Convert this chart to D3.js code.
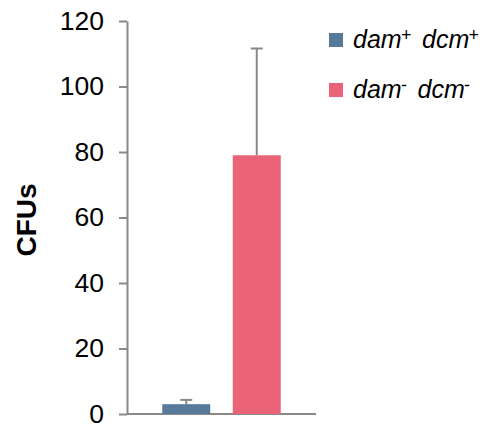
<!DOCTYPE html>
<html>
<head>
<meta charset="utf-8">
<script src="https://cdn.jsdelivr.net/npm/d3@7"></script>
<style>
  body { margin: 0; background: #fff; }
  svg { font-family: "Liberation Sans", Arial, sans-serif; }
</style>
</head>
<body>
<svg id="chart" width="492" height="430"></svg>
<script>
// strains, mean CFUs and upper error
var strains = ["dam+ dcm+", "dam- dcm-"];
var cfus = [3, 79];
var errors = [1.3, 32.6];
var colors = ["#587a9a", "#eb6376"];
var yTicks = [0, 20, 40, 60, 80, 100, 120];
// legend pieces: [base, sup] pairs
var legendParts = [
  [["dam", "+"], ["dcm", "+"]],
  [["dam", "-"], ["dcm", "-"]]
];

var svg = d3.select("#chart");
var axisColor = "#898989";

var y = d3.scaleLinear().domain([0, 120]).range([414, 21]);
var x = d3.scaleBand().domain(strains).range([127, 316])
    .paddingInner(0.32).paddingOuter(0.5);

// y axis
var yAxis = svg.append("g")
    .attr("transform", "translate(127,0)")
    .call(d3.axisLeft(y).tickValues(yTicks).tickSize(8).tickSizeOuter(0).tickPadding(15));
yAxis.select(".domain").attr("stroke", axisColor).attr("stroke-width", 2);
yAxis.selectAll(".tick line").attr("stroke", axisColor).attr("stroke-width", 2);
yAxis.selectAll(".tick text")
    .attr("fill", "#000")
    .style("font-size", "26.5px")
    .style("font-family", "Liberation Sans, Arial, sans-serif");

// x axis line
svg.append("line")
    .attr("x1", 127).attr("x2", 316)
    .attr("y1", y(0)).attr("y2", y(0))
    .attr("stroke", axisColor).attr("stroke-width", 2);

// bars
svg.selectAll("rect.bar")
    .data(strains)
  .enter().append("rect")
    .attr("class", "bar")
    .attr("x", function(d) { return x(d); })
    .attr("width", x.bandwidth())
    .attr("y", function(d, i) { return y(cfus[i]); })
    .attr("height", function(d, i) { return y(0) - y(cfus[i]); })
    .attr("fill", function(d, i) { return colors[i]; });

// error bars (upper only)
var err = svg.selectAll("g.err")
    .data(strains)
  .enter().append("g")
    .attr("class", "err");
err.append("line")
    .attr("x1", function(d) { return x(d) + x.bandwidth() / 2; })
    .attr("x2", function(d) { return x(d) + x.bandwidth() / 2; })
    .attr("y1", function(d, i) { return y(cfus[i]); })
    .attr("y2", function(d, i) { return y(cfus[i] + errors[i]); })
    .attr("stroke", axisColor).attr("stroke-width", 2);
err.append("line")
    .attr("x1", function(d) { return x(d) + x.bandwidth() / 2 - 6; })
    .attr("x2", function(d) { return x(d) + x.bandwidth() / 2 + 6; })
    .attr("y1", function(d, i) { return y(cfus[i] + errors[i]); })
    .attr("y2", function(d, i) { return y(cfus[i] + errors[i]); })
    .attr("stroke", axisColor).attr("stroke-width", 2);

// y label
svg.append("text")
    .attr("transform", "translate(36,220) rotate(-90)")
    .attr("text-anchor", "middle")
    .style("font-size", "28px")
    .style("font-weight", "bold")
    .text("CFUs");

// legend
var legend = svg.selectAll("g.legend")
    .data(strains)
  .enter().append("g")
    .attr("class", "legend")
    .attr("transform", function(d, i) { return "translate(329," + (33 + i * 50) + ")"; });
legend.append("rect")
    .attr("width", 14).attr("height", 14)
    .attr("fill", function(d, i) { return colors[i]; });
legend.each(function(d, i) {
  var t = d3.select(this).append("text")
      .attr("x", 24).attr("y", 15)
      .style("font-size", "25px")
      .style("font-style", "italic");
  legendParts[i].forEach(function(p, j) {
    t.append("tspan")
        .attr("dy", j > 0 ? 7 : 0)
        .attr("dx", j > 0 ? 4 : 0)
        .text((j > 0 ? " " : "") + p[0]);
    t.append("tspan")
        .attr("dy", -7)
        .attr("dx", -1)
        .style("font-size", "18px")
        .text(p[1]);
  });
});
</script>
</body>
</html>
